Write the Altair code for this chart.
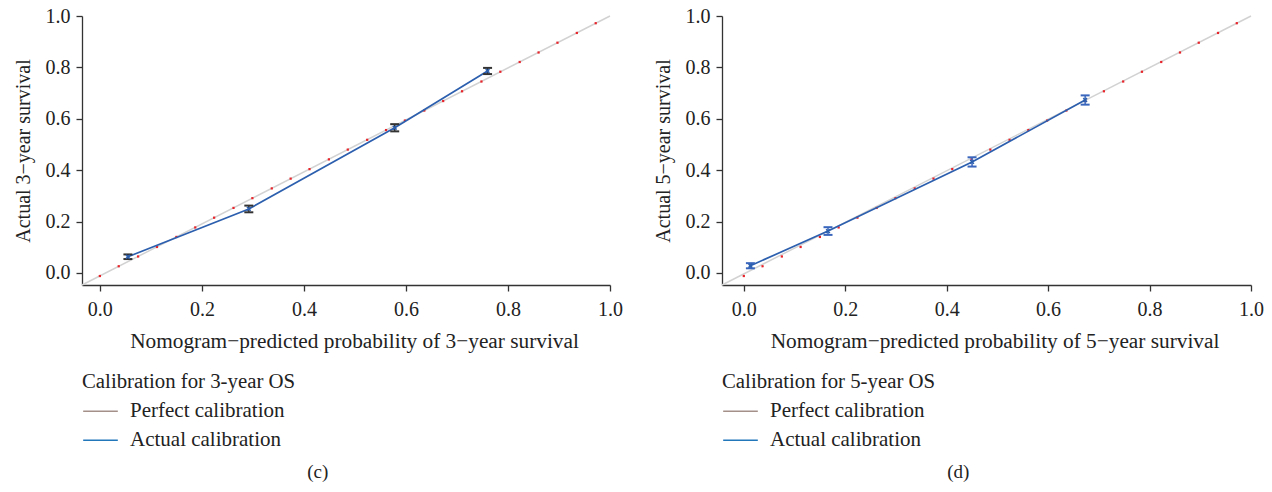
import altair as alt
import pandas as pd

# ---- data ----
pred3 = [0.055, 0.292, 0.578, 0.760]
obs3 = [0.063, 0.249, 0.565, 0.786]
err3 = [0.009, 0.013, 0.014, 0.012]

pred5 = [0.013, 0.166, 0.450, 0.673]
obs5 = [0.028, 0.163, 0.432, 0.673]
err5 = [0.010, 0.015, 0.018, 0.018]

dots_x = [0.000, 0.037, 0.075, 0.112, 0.150, 0.187, 0.224, 0.262, 0.299, 0.337,
          0.374, 0.411, 0.449, 0.486, 0.524, 0.561, 0.598, 0.636, 0.673, 0.710,
          0.748, 0.785, 0.823, 0.860, 0.897, 0.935, 0.972]
dots_y = [-0.012, 0.026, 0.064, 0.101, 0.140, 0.177, 0.215, 0.253, 0.291, 0.329,
          0.367, 0.404, 0.442, 0.480, 0.518, 0.556, 0.593, 0.632, 0.669, 0.707,
          0.745, 0.783, 0.821, 0.858, 0.896, 0.934, 0.972]

tick_vals = [0.0, 0.2, 0.4, 0.6, 0.8, 1.0]
series = ["Perfect calibration", "Actual calibration"]
legend_colors = ["#a48f89", "#2277bb"]

FONT = "Liberation Serif"
FS = 20
H = 269
YDOM = [-0.047, 1.0]


def panel(pred, obs, err, err_color, xdom, width, ytitle, xtitle, legtitle, caption):
    xs = alt.Scale(domain=xdom, nice=False, zero=False)
    ys = alt.Scale(domain=YDOM, nice=False, zero=False)
    xax = alt.Axis(values=tick_vals, format=".1f", title=xtitle, grid=False,
                   titleX=width / 2 + 8)
    yax = alt.Axis(values=tick_vals, format=".1f", title=ytitle, grid=False)

    diag = pd.DataFrame({"x": [xdom[0], 1.0], "y": [YDOM[0], 1.0]})
    dots = pd.DataFrame({"x": dots_x, "y": dots_y})
    act = pd.DataFrame({"x": pred, "y": obs,
                        "lo": [o - e for o, e in zip(obs, err)],
                        "hi": [o + e for o, e in zip(obs, err)]})
    leg = pd.DataFrame({"x": [2.0, 2.1, 2.0, 2.1], "y": [2.0, 2.1, 2.0, 2.1],
                        "s": [series[0], series[0], series[1], series[1]]})

    gray = alt.Chart(diag).mark_line(color="#d2d2d2", strokeWidth=1.5).encode(
        x=alt.X("x:Q", scale=xs, axis=xax), y=alt.Y("y:Q", scale=ys, axis=yax))
    reddots = alt.Chart(dots).mark_square(color="#e8242b", size=5, opacity=1).encode(
        x=alt.X("x:Q", scale=xs), y=alt.Y("y:Q", scale=ys))
    blue = alt.Chart(act).mark_line(color="#2c5fae", strokeWidth=1.7).encode(
        x=alt.X("x:Q", scale=xs), y=alt.Y("y:Q", scale=ys))
    bars = alt.Chart(act).mark_rule(color=err_color, strokeWidth=1.5).encode(
        x=alt.X("x:Q", scale=xs), y=alt.Y("lo:Q", scale=ys), y2="hi:Q")
    cap_lo = alt.Chart(act).mark_tick(color=err_color, orient="horizontal", size=9,
                                      thickness=2, opacity=1).encode(
        x=alt.X("x:Q", scale=xs), y=alt.Y("lo:Q", scale=ys))
    cap_hi = alt.Chart(act).mark_tick(color=err_color, orient="horizontal", size=9,
                                      thickness=2, opacity=1).encode(
        x=alt.X("x:Q", scale=xs), y=alt.Y("hi:Q", scale=ys))
    pts = alt.Chart(act).mark_point(shape="M-1,-1L1,1M-1,1L1,-1", color="#2c5fae",
                                    size=14, strokeWidth=1.5, opacity=1).encode(
        x=alt.X("x:Q", scale=xs), y=alt.Y("y:Q", scale=ys))
    legend_layer = alt.Chart(leg).mark_line(clip=True, strokeWidth=1.5).encode(
        x=alt.X("x:Q", scale=xs), y=alt.Y("y:Q", scale=ys),
        color=alt.Color("s:N", scale=alt.Scale(domain=series, range=legend_colors),
                        legend=alt.Legend(
                            title=legtitle, orient="none", legendX=0, legendY=356,
                            symbolType="stroke", symbolSize=1200, symbolStrokeWidth=1.5,
                            labelFont=FONT, labelFontSize=21, labelColor="#222",
                            titleFont=FONT, titleFontSize=20.8, titleFontWeight="normal",
                            titleColor="#222", labelOffset=11, rowPadding=-10,
                            titlePadding=0, labelLimit=400, titleLimit=400)),
        detail="s:N")

    return alt.layer(gray, reddots, blue, bars, cap_lo, cap_hi, pts, legend_layer).properties(
        width=width, height=H,
        title=alt.TitleParams(caption, orient="bottom", anchor="middle", frame="bounds",
                              font=FONT, fontSize=19, fontWeight="normal",
                              color="#222", offset=12))


left = panel(pred3, obs3, err3, "#333333", [-0.035, 1.0], 528,
             "Actual 3\u2212year survival",
             "Nomogram\u2212predicted probability of 3\u2212year survival",
             "Calibration for 3-year OS", "(c)")
right = panel(pred5, obs5, err5, "#3a67bd", [-0.043, 1.0], 529,
              "Actual 5\u2212year survival",
              "Nomogram\u2212predicted probability of 5\u2212year survival",
              "Calibration for 5-year OS", "(d)")

chart = alt.hconcat(left, right, spacing=30).resolve_scale(
    color="independent").resolve_legend(color="independent").properties(
    padding={"left": 13, "top": 6, "right": 5, "bottom": 5}
).configure_view(stroke=None).configure_axis(
    labelFont=FONT, titleFont=FONT, labelFontSize=FS, titleFontSize=FS,
    titleFontWeight="normal", labelColor="#222", titleColor="#222",
    domainColor="#333", tickColor="#333", domainWidth=1.3, tickWidth=1.3,
    tickSize=6, labelPadding=6, titlePadding=12, labelFlush=False
).configure_axisX(labelPadding=8, titlePadding=11, titleFontSize=21.3)

chart.save("out.html", embed_options={"renderer": "svg", "actions": False})
